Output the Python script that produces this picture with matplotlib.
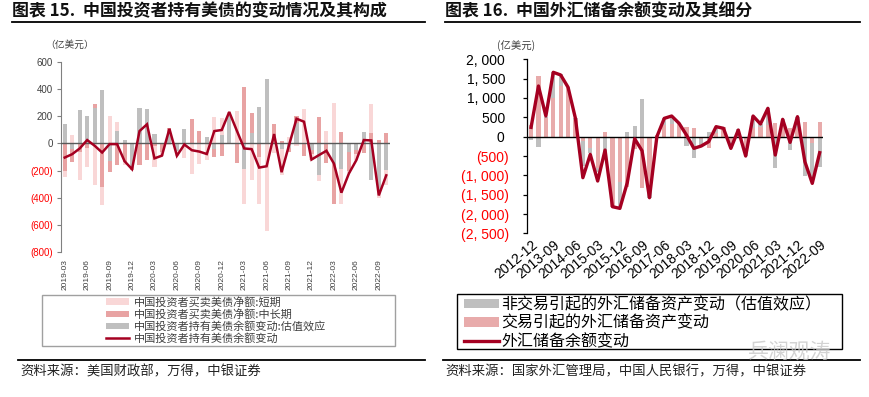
import numpy as np
import matplotlib
matplotlib.use("Agg")
import matplotlib.pyplot as plt
from matplotlib.patches import Patch, Rectangle
from matplotlib.lines import Line2D

plt.rcParams['font.family'] = ['Noto Sans CJK SC', 'DejaVu Sans']

# ---------------- Left chart data (monthly, 100 million USD) ----------------
left_months = [
    "2019-03", "2019-04", "2019-05", "2019-06", "2019-07", "2019-08", "2019-09", "2019-10",
    "2019-11", "2019-12", "2020-01", "2020-02", "2020-03", "2020-04", "2020-05", "2020-06",
    "2020-07", "2020-08", "2020-09", "2020-10", "2020-11", "2020-12", "2021-01", "2021-02",
    "2021-03", "2021-04", "2021-05", "2021-06", "2021-07", "2021-08", "2021-09", "2021-10",
    "2021-11", "2021-12", "2022-01", "2022-02", "2022-03", "2022-04", "2022-05", "2022-06",
    "2022-07", "2022-08", "2022-09", "2022-10",
]
left_short = [-42, 62, -210, -136, -309, -136, 202, 65, -20, 5, 0, 0, -155, -30, -10, -35,
              -111, -227, -148, -123, 193, 123, 35, 240, -264, -267, -344, -642, -70, -190, 50, -20,
              252, -40, -44, 94, 296, -259, -20, -45, 0, 217, -45, -111]
left_long = [-205, -100, -62, -37, 30, -321, -79, -160, -140, -25, -160, -119, -20, -60, 35, 0,
             0, 178, 89, 0, -60, -91, 0, -145, 415, 143, -100, 0, 143, 20, -30, 55,
             -91, -30, 198, -141, -299, 81, -140, -30, -67, 74, 25, 74]
left_valuation = [143, -40, 247, 202, 259, 395, -131, 95, 28, -170, 259, 254, 67, 0, 80, -55,
                  104, 0, 0, 49, -40, 62, 200, 0, -185, 79, 272, 474, 0, -40, -30, 150,
                  0, -50, -235, 0, -150, -185, -60, -50, 85, -267, -360, -198]
left_total = [-104, -79, -37, 25, -17, -67, -5, -5, -131, -190, 91, 141, -110, -90, 108, -91,
              -8, -50, -60, -78, 91, 99, 232, 96, -37, -42, -178, -168, 69, -212, -12, 182,
              160, -119, -86, -54, -148, -363, -222, -123, 25, 22, -383, -235]
left_yticks = [600, 400, 200, 0, -200, -400, -600, -800]
left_ytick_labels = ["600", "400", "200", "0", "(200)", "(400)", "(600)", "(800)"]
left_labels = ["中国投资者买卖美债净额:短期", "中国投资者买卖美债净额:中长期",
               "中国投资者持有美债余额变动:估值效应", "中国投资者持有美债余额变动"]

# ---------------- Right chart data (quarterly, 100 million USD) ----------------
right_quarters = [
    "2012-12", "2013-03", "2013-06", "2013-09", "2013-12", "2014-03", "2014-06", "2014-09",
    "2014-12", "2015-03", "2015-06", "2015-09", "2015-12", "2016-03", "2016-06", "2016-09",
    "2016-12", "2017-03", "2017-06", "2017-09", "2017-12", "2018-03", "2018-06", "2018-09",
    "2018-12", "2019-03", "2019-06", "2019-09", "2019-12", "2020-03", "2020-06", "2020-09",
    "2020-12", "2021-03", "2021-06", "2021-09", "2021-12", "2022-03", "2022-06", "2022-09",
]
right_transaction = [300, 1570, 480, 990, 1320, 1250, 440, -100, -300, -820, 110, -1810, -1164, -1290, -320, -1336,
                     -1300, 40, 300, 320, 320, 241, 215, -70, -284, 90, 250, -130, -40, -260, 215, 250,
                     300, 362, 300, 215, 215, 388, -170, 388]
right_valuation = [-86, -259, 40, 690, 293, 30, 30, -650, -110, -100, -455, 0, -647, 115, 276, 974,
                   -280, -40, 170, 210, 25, -241, -543, -172, 112, 172, -35, -170, 210, -240, 320, 80,
                   430, -819, 150, -345, 300, -1017, -1000, -793]
right_total = [241, 1310, 534, 1664, 1595, 1276, 470, -1060, -457, -1146, -345, -1810, -1853, -1190, -55, -365,
               -1578, 0, 474, 534, 345, 43, -302, -241, -129, 259, 216, -302, 172, -500, 534, 328,
               733, -474, 448, -147, 517, -646, -1207, -414]
right_yticks = [2000, 1500, 1000, 500, 0, -500, -1000, -1500, -2000, -2500]
right_ytick_labels = ["2, 000 ", "1, 500 ", "1, 000 ", "500 ", "0 ", "(500)", "(1, 000)",
                      "(1, 500)", "(2, 000)", "(2, 500)"]
right_labels = ["非交易引起的外汇储备资产变动（估值效应）", "交易引起的外汇储备资产变动", "外汇储备余额变动"]

# ---------------- styles ----------------
C_LINE = "#A50021"
C_SHORT = "#F9D7D7"
C_LONG = "#E8A3A3"
C_GRAY = "#BFBFBF"
C_TRANS = "#E8ABAB"
C_TEXT = "#404040"
C_NEG = "#FF0000"

W, H = 869, 397
fig = plt.figure(figsize=(W / 100, H / 100), dpi=100)


def fx(px):
    return px / W


def fy(py):
    return 1 - py / H


def stacked(ax, x, series, colors, width):
    pos = np.zeros(len(x))
    neg = np.zeros(len(x))
    for vals, col in zip(series, colors):
        v = np.asarray(vals, dtype=float)
        p = np.where(v > 0, v, 0)
        n = np.where(v < 0, v, 0)
        ax.bar(x, p, width, bottom=pos, color=col, linewidth=0, zorder=2)
        ax.bar(x, n, width, bottom=neg, color=col, linewidth=0, zorder=2)
        pos += p
        neg += n


# ---------------- titles / header lines ----------------
fig.text(fx(12), fy(11), "图表 15.  中国投资者持有美债的变动情况及其构成", fontsize=12.2,
         fontweight="bold", ha="left", va="center", color="#111111")
fig.text(fx(445), fy(11), "图表 16.  中国外汇储备余额变动及其细分", fontsize=12.2,
         fontweight="bold", ha="left", va="center", color="#111111")
for x0, x1 in [(12, 425), (445, 860)]:
    fig.add_artist(Line2D([fx(x0), fx(x1)], [fy(22), fy(22)], color="black", lw=1.3))
for x0, x1 in [(18, 425), (443, 860)]:
    fig.add_artist(Line2D([fx(x0), fx(x1)], [fy(360), fy(360)], color="black", lw=1.3))

fig.text(fx(20), fy(371), "资料来源：美国财政部，万得，中银证券", fontsize=9.6, ha="left", va="center",
         color="#222222", style="italic")
fig.text(fx(445), fy(371), "资料来源：国家外汇管理局，中国人民银行，万得，中银证券", fontsize=9.6,
         ha="left", va="center", color="#222222", style="italic")

# ---------------- left chart ----------------
axL = fig.add_axes([fx(61), fy(252), fx(390 - 61), (252 - 62) / H])
xl = np.arange(len(left_months))
stacked(axL, xl, [left_valuation, left_long, left_short], [C_GRAY, C_LONG, C_SHORT], 0.55)
axL.axhline(0, color="#595959", lw=1, zorder=3)
axL.plot(xl, left_total, color=C_LINE, lw=1.8, zorder=4, solid_joinstyle="miter")
axL.set_xlim(-0.5, len(left_months) - 0.5)
axL.set_ylim(-800, 600)
axL.set_yticks(left_yticks)
axL.set_yticklabels(left_ytick_labels, fontsize=7, family=["Liberation Sans", "DejaVu Sans"])
for t, v in zip(axL.get_yticklabels(), left_yticks):
    t.set_color(C_NEG if v < 0 else C_TEXT)
axL.set_xticks(xl[::3])
axL.set_xticklabels(left_months[::3], rotation=90, fontsize=6,
                    family=["Liberation Sans", "DejaVu Sans"], color=C_TEXT)
axL.tick_params(axis="x", length=0, pad=5)
axL.tick_params(axis="y", length=3, width=0.8, color="#808080", pad=3)
for s in ["top", "right", "bottom"]:
    axL.spines[s].set_visible(False)
axL.spines["left"].set_color("#808080")
axL.spines["left"].set_linewidth(0.8)
fig.text(fx(45), fy(45), "（亿美元）", fontsize=7, ha="left", va="center", color=C_TEXT)

# left legend
fig.add_artist(Rectangle((fx(42), fy(346)), fx(395 - 42), (346 - 295) / H, transform=fig.transFigure,
                         fill=False, edgecolor="#A0A0A0", lw=1))
hL = [Patch(facecolor=C_SHORT), Patch(facecolor=C_LONG), Patch(facecolor=C_GRAY),
      Line2D([], [], color=C_LINE, lw=1.8)]
fig.legend(hL, left_labels, loc="upper left", bbox_to_anchor=(fx(106), fy(296.5)), frameon=False,
           fontsize=8, handlelength=2.1, handleheight=0.55, handletextpad=0.4, labelspacing=0.12,
           borderpad=0, borderaxespad=0, labelcolor=C_TEXT)

# ---------------- right chart ----------------
axR = fig.add_axes([fx(527), fy(233.4), fx(823 - 527), (233.4 - 59.3) / H])
xr = np.arange(len(right_quarters))
stacked(axR, xr, [right_transaction, right_valuation], [C_TRANS, C_GRAY], 0.55)
axR.axhline(0, color="black", lw=1, zorder=3)
axR.plot(xr, right_total, color=C_LINE, lw=2.4, zorder=4)
axR.set_xlim(-0.55, len(right_quarters) - 0.55)
axR.set_ylim(-2500, 2000)
axR.set_yticks(right_yticks)
axR.set_yticklabels(right_ytick_labels, fontsize=10, family=["Liberation Sans", "DejaVu Sans"])
for t, v in zip(axR.get_yticklabels(), right_yticks):
    t.set_color(C_NEG if v < 0 else "black")
axR.set_xticks(xr[::3])
axR.set_xticklabels(right_quarters[::3], rotation=40, ha="right", rotation_mode="anchor",
                    fontsize=10, family=["Liberation Sans", "DejaVu Sans"], color="black")
axR.tick_params(axis="x", length=0, pad=3)
axR.tick_params(axis="y", length=3, width=0.9, color="black", pad=10)
for s in ["top", "right", "bottom"]:
    axR.spines[s].set_visible(False)
axR.spines["left"].set_color("black")
axR.spines["left"].set_linewidth(0.9)
fig.text(fx(497), fy(46), "(亿美元)", fontsize=7.5, ha="left", va="center", color=C_TEXT)

# right legend
fig.add_artist(Rectangle((fx(457), fy(349)), fx(842 - 457), (349 - 294) / H, transform=fig.transFigure,
                         fill=False, edgecolor="black", lw=1))
hR = [Patch(facecolor=C_GRAY), Patch(facecolor=C_TRANS), Line2D([], [], color=C_LINE, lw=2.4)]
fig.legend(hR, right_labels, loc="upper left", bbox_to_anchor=(fx(464), fy(296)), frameon=False,
           fontsize=11.5, handlelength=2.2, handleheight=0.55, handletextpad=0.15, labelspacing=0.1,
           borderpad=0, borderaxespad=0, labelcolor="black")

# watermark
fig.text(fx(790), fy(352), "兵澜观涛", fontsize=15, ha="center", va="center", color="#C8C8C8",
         alpha=0.8)

fig.savefig("out.png", dpi=100)
